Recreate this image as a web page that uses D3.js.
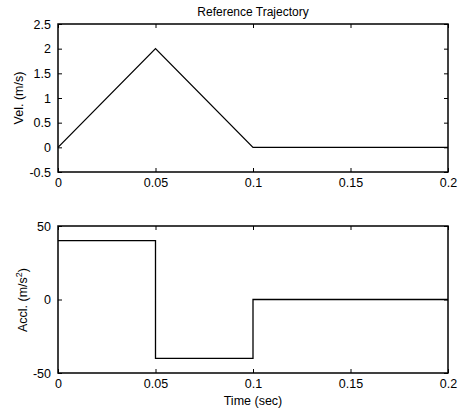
<!DOCTYPE html>
<html><head><meta charset="utf-8">
<script src="https://cdn.jsdelivr.net/npm/d3@7"></script>
<style>body{margin:0;background:#fff}svg{display:block}text{font-family:"Liberation Sans",Arial,sans-serif;fill:#000}</style>
</head><body>
<script>
const velTime = [0, 0.05, 0.1, 0.2];
const velValues = [0, 2, 0, 0];
const accTime = [0, 0.05, 0.05, 0.1, 0.1, 0.2];
const accValues = [40, 40, -40, -40, 0, 0];
const xTicks = [0, 0.05, 0.1, 0.15, 0.2];
const xTickLabels = ["0", "0.05", "0.1", "0.15", "0.2"];
const velTicks = [-0.5, 0, 0.5, 1, 1.5, 2, 2.5];
const velTickLabels = ["-0.5", "0", "0.5", "1", "1.5", "2", "2.5"];
const accTicks = [-50, 0, 50];
const accTickLabels = ["-50", "0", "50"];

const W = 466, H = 411;
const svg = d3.select("body").append("svg").attr("width", W).attr("height", H);

function panel(top, bottom, yDomain, yTicks, yLabels, xs, ys) {
  const x = d3.scaleLinear().domain([0, 0.2]).range([58, 448]);
  const y = d3.scaleLinear().domain(yDomain).range([bottom, top]);
  const g = svg.append("g");
  g.append("rect").attr("x", 58).attr("y", top).attr("width", 390).attr("height", bottom - top)
    .attr("fill", "none").attr("stroke", "#000").attr("stroke-width", 1.5);
  const tl = 4;
  const xb = d3.axisBottom(x).tickValues(xTicks).tickSize(-tl).tickPadding(6)
    .tickFormat((d, i) => xTickLabels[i]);
  const gx = g.append("g").attr("transform", `translate(0,${bottom})`).call(xb);
  const xt = d3.axisTop(x).tickValues(xTicks).tickSize(-tl).tickFormat("");
  const gxt = g.append("g").attr("transform", `translate(0,${top})`).call(xt);
  const yl = d3.axisLeft(y).tickValues(yTicks).tickSize(-tl).tickPadding(7)
    .tickFormat((d, i) => yLabels[i]);
  const gy = g.append("g").attr("transform", `translate(58,0)`).call(yl);
  const yr = d3.axisRight(y).tickValues(yTicks).tickSize(-tl).tickFormat("");
  const gyr = g.append("g").attr("transform", `translate(448,0)`).call(yr);
  [gx, gxt, gy, gyr].forEach(a => {
    a.select(".domain").remove();
    a.selectAll("line").attr("stroke", "#000").attr("stroke-width", 1);
    a.selectAll("text").attr("font-size", 12.5).attr("font-family", "Liberation Sans, Arial, sans-serif").attr("fill", "#000");
  });
  const line = d3.line().x(d => x(d[0])).y(d => y(d[1]));
  g.append("path").datum(xs.map((t, i) => [t, ys[i]])).attr("d", line)
    .attr("fill", "none").attr("stroke", "#000").attr("stroke-width", 1.3);
  return {x, y};
}

panel(24, 172, [-0.5, 2.5], velTicks, velTickLabels, velTime, velValues);
panel(226, 373, [-50, 50], accTicks, accTickLabels, accTime, accValues);

svg.append("text").attr("x", 253).attr("y", 16).attr("text-anchor", "middle")
  .attr("font-size", 12).text("Reference Trajectory");
svg.append("text").attr("x", 253).attr("y", 405).attr("text-anchor", "middle")
  .attr("font-size", 12.5).text("Time (sec)");
svg.append("text").attr("transform", "translate(23,98) rotate(-90)").attr("text-anchor", "middle")
  .attr("font-size", 12.5).text("Vel. (m/s)");
const acc = svg.append("text").attr("transform", "translate(27,300) rotate(-90)").attr("text-anchor", "middle")
  .attr("font-size", 12.5);
acc.append("tspan").text("Accl. (m/s");
acc.append("tspan").attr("dy", -5).attr("font-size", 9).text("2");
acc.append("tspan").attr("dy", 5).text(")");
</script>
</body></html>
